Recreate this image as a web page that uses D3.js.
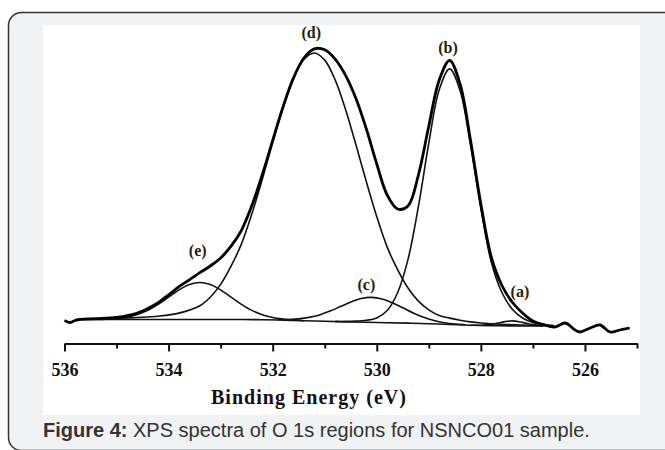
<!DOCTYPE html>
<html>
<head>
<meta charset="utf-8">
<script src="https://cdn.jsdelivr.net/npm/d3@7"></script>
<style>
  html, body { margin: 0; padding: 0; background: #fff; }
</style>
</head>
<body>
<div id="chart"></div>
<script>
// O 1s XPS spectrum (binding energy eV, intensity a.u.)
var majorTicks = [536, 534, 532, 530, 528, 526];
var minorTicks = [535, 533, 531, 529, 527, 525];

var spectrum = [
  [536.0, 9.6], [535.9, 7.5], [535.8, 9.5], [535.7, 10.6], [535.4, 11.3],
  [535.0, 12.6], [534.6, 17.0], [534.2, 27.4], [534.0, 35.2], [533.8, 43.3],
  [533.6, 50.2], [533.4, 57.3], [533.2, 64.0], [533.0, 72.0], [532.8, 83.8],
  [532.6, 99.7], [532.4, 124.4], [532.2, 155.3], [532.0, 189.6], [531.8, 223.3],
  [531.6, 252.1], [531.4, 272.0], [531.2, 281.2], [531.0, 280.2], [530.8, 270.9],
  [530.6, 254.7], [530.4, 231.5], [530.2, 201.0], [530.0, 166.0], [529.8, 135.0],
  [529.6, 121.0], [529.4, 124.0], [529.2, 155.0], [529.0, 204.0], [528.8, 250.0],
  [528.6, 269.5], [528.4, 246.0], [528.2, 190.0], [528.0, 126.0], [527.8, 73.0],
  [527.6, 45.0], [527.4, 28.0], [527.2, 17.0], [527.0, 9.0], [526.8, 5.5],
  [526.58, 3.0], [526.38, 7.0], [526.19, 0.0], [526.1, -2.0], [525.9, 2.0],
  [525.71, 5.0], [525.52, -2.0], [525.33, 0.0], [525.14, 2.0]
];

var background = [
  [535.7, 10.5], [534.0, 10.5], [532.6, 10.5], [532.2, 10.3], [531.8, 9.9],
  [531.4, 9.3], [531.0, 8.7], [530.6, 8.1], [530.2, 7.7], [529.8, 7.3],
  [529.4, 6.9], [529.0, 6.3], [528.6, 5.5], [528.2, 4.8], [527.8, 4.3],
  [527.4, 4.1], [527.0, 4.0], [526.8, 4.0]
];

var peakA = [
  [528.2, 4.8], [528.0, 4.8], [527.8, 5.7], [527.6, 7.8], [527.4, 9.1],
  [527.2, 7.6], [527.0, 5.4], [526.8, 4.3], [526.6, 4.0]
];

var peakB = [
  [530.8, 8.6], [530.6, 8.6], [530.4, 8.9], [530.2, 9.7], [530.0, 12.1],
  [529.8, 19.5], [529.6, 37.3], [529.4, 70.6], [529.2, 123.6], [529.0, 186.9],
  [528.8, 240.3], [528.6, 261.1], [528.4, 239.5], [528.2, 185.4], [528.0, 121.5],
  [527.8, 68.0], [527.6, 38.0], [527.4, 21.0], [527.2, 12.0], [527.0, 7.5],
  [526.8, 5.5], [526.6, 4.5]
];

var peakC = [
  [531.9, 10.3], [531.7, 10.5], [531.5, 11.1], [531.3, 12.6], [531.1, 15.1],
  [530.9, 18.9], [530.7, 23.4], [530.5, 28.0], [530.3, 31.5], [530.1, 32.6],
  [529.9, 31.1], [529.7, 27.2], [529.5, 22.2], [529.3, 17.1], [529.1, 12.7],
  [528.9, 9.5], [528.7, 7.3], [528.5, 6.0], [528.3, 5.3]
];

var peakD = [
  [535.0, 11.7], [534.6, 12.5], [534.2, 13.8], [533.8, 16.9], [533.4, 24.3],
  [533.2, 32.8], [533.0, 45.6], [532.8, 63.8], [532.6, 86.1], [532.4, 116.2],
  [532.2, 150.8], [532.0, 187.4], [531.8, 222.3], [531.6, 251.3], [531.4, 270.5],
  [531.2, 277.0], [531.0, 269.9], [530.8, 250.1], [530.6, 220.5], [530.4, 185.2],
  [530.2, 148.2], [530.0, 113.3], [529.8, 82.9], [529.6, 60.4], [529.4, 42.0],
  [529.2, 28.9], [529.0, 20.1], [528.8, 14.4], [528.6, 11.9], [528.4, 9.8],
  [528.2, 8.1], [528.0, 7.0], [527.6, 5.7], [527.2, 5.0], [526.8, 4.3]
];

var peakE = [
  [535.8, 10.5], [535.2, 10.9], [535.0, 11.6], [534.8, 12.9], [534.6, 15.5],
  [534.4, 19.7], [534.2, 25.7], [534.0, 32.9], [533.8, 40.1], [533.6, 45.5],
  [533.4, 47.5], [533.2, 45.5], [533.0, 40.1], [532.8, 32.9], [532.6, 25.7],
  [532.4, 19.6], [532.2, 15.3], [532.0, 12.5], [531.8, 11.0], [531.6, 10.0],
  [531.4, 9.3]
];

var peakLabels = [
  {text: "(a)", e: 527.25, v: 33},
  {text: "(b)", e: 528.63, v: 277},
  {text: "(c)", e: 530.2, v: 40},
  {text: "(d)", e: 531.26, v: 292},
  {text: "(e)", e: 533.44, v: 74}
];

var axisTitle = "Binding Energy (eV)";
var captionBold = "Figure 4:";
var captionText = " XPS spectra of O 1s regions for NSNCO01 sample.";

(function () {
    'use strict';
    var W = 665, H = 450, svg, plot, x, y, line;

    svg = d3.select("#chart").append("svg")
        .attr("width", W)
        .attr("height", H)
        .style("display", "block");

    // grey card with rounded corner, runs off right and bottom
    svg.append("rect")
        .attr("x", 8.5).attr("y", 12.5)
        .attr("width", 700).attr("height", 438)
        .attr("rx", 13)
        .attr("fill", "#f1f2f4")
        .attr("stroke", "#333")
        .attr("stroke-width", 1.5);

    // white figure area
    svg.append("rect")
        .attr("x", 43).attr("y", 25)
        .attr("width", 597).attr("height", 390)
        .attr("fill", "#fff");

    x = d3.scaleLinear().domain([536, 525]).range([64.5, 637]);
    y = d3.scaleLinear().domain([0, 300]).range([330, 30]);

    line = d3.line()
        .x(function (d) { return x(d[0]); })
        .y(function (d) { return y(d[1]); })
        .curve(d3.curveCatmullRom.alpha(0.5));

    plot = svg.append("g");

    // background and fitted components
    [background, peakA, peakB, peakC, peakD, peakE].forEach(function (s) {
        plot.append("path")
            .attr("d", line(s))
            .attr("fill", "none")
            .attr("stroke", "#111")
            .attr("stroke-width", 1.6);
    });

    // measured spectrum
    plot.append("path")
        .attr("d", line(spectrum))
        .attr("fill", "none")
        .attr("stroke", "#000")
        .attr("stroke-width", 2.8)
        .attr("stroke-linejoin", "round");

    // x axis
    var axisY = 343.5;
    var gMinor = svg.append("g")
        .attr("transform", "translate(0," + axisY + ")")
        .call(d3.axisBottom(x).tickValues(minorTicks).tickSize(5)
            .tickSizeOuter(0).tickFormat(""));
    var gMajor = svg.append("g")
        .attr("transform", "translate(0," + axisY + ")")
        .call(d3.axisBottom(x).tickValues(majorTicks).tickSize(8)
            .tickSizeOuter(0).tickFormat(d3.format("d")));

    [gMinor, gMajor].forEach(function (g) {
        g.select(".domain").attr("stroke", "#111").attr("stroke-width", 2);
        g.selectAll(".tick line").attr("stroke", "#111").attr("stroke-width", 2);
    });
    gMajor.selectAll(".tick text")
        .attr("y", 20)
        .attr("dy", "0.71em")
        .style("font-family", "'Liberation Serif', 'Times New Roman', serif")
        .style("font-weight", "bold")
        .style("font-size", "18px")
        .style("fill", "#111");

    svg.append("text")
        .attr("x", 211)
        .attr("y", 404)
        .attr("textLength", 195)
        .attr("lengthAdjust", "spacing")
        .style("font-family", "'Liberation Serif', 'Times New Roman', serif")
        .style("font-weight", "bold")
        .style("font-size", "20px")
        .style("fill", "#111")
        .text(axisTitle);

    // peak labels
    svg.selectAll("text.peak")
        .data(peakLabels)
        .enter()
        .append("text")
        .attr("class", "peak")
        .attr("x", function (d) { return x(d.e); })
        .attr("y", function (d) { return y(d.v); })
        .attr("text-anchor", "middle")
        .style("font-family", "'Liberation Serif', 'Times New Roman', serif")
        .style("font-weight", "bold")
        .style("font-size", "16px")
        .style("fill", "#2a1c10")
        .text(function (d) { return d.text; });

    // caption
    var cap = svg.append("text")
        .attr("x", 43)
        .attr("y", 437)
        .style("font-family", "'Liberation Sans', Arial, sans-serif")
        .style("font-size", "20px")
        .style("fill", "#333");
    cap.append("tspan").style("font-weight", "bold").text(captionBold);
    cap.append("tspan").text(captionText);
}());
</script>
</body>
</html>
